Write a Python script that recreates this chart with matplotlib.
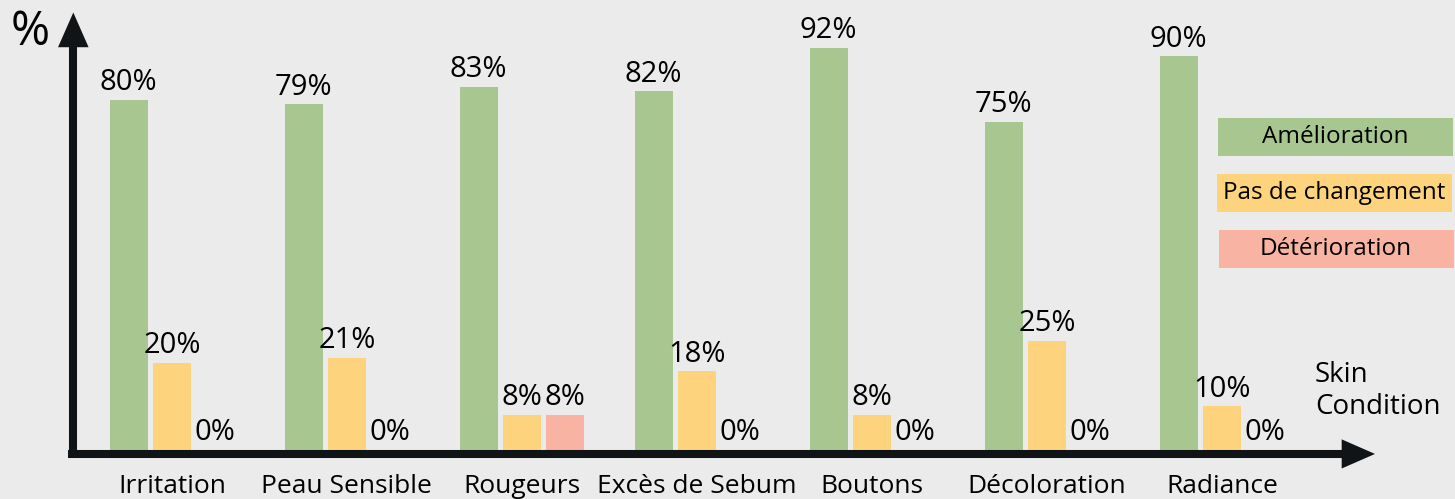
import matplotlib.pyplot as plt
from matplotlib.patches import Rectangle

plt.rcParams['font.family'] = ['Open Sans', 'DejaVu Sans']

# data
conditions = ['Irritation', 'Peau Sensible', 'Rougeurs', 'Excès de Sebum',
              'Boutons', 'Décoloration', 'Radiance']
amelioration = [80, 79, 83, 82, 92, 75, 90]
pas_de_changement = [20, 21, 8, 18, 8, 25, 10]
deterioration = [0, 0, 8, 0, 0, 0, 0]
series_names = ['Amélioration', 'Pas de changement', 'Détérioration']

bg = '#ebebeb'
green = '#a8c690'
yellow = '#fdd47d'
red = '#f8b3a3'
ink = '#111417'

W, H = 1455, 499
fig = plt.figure(figsize=(W / 100, H / 100), dpi=100, facecolor=bg)

# axes placed in pixels: left 72, right 1375, top 12.5, baseline 450
ax = fig.add_axes([72 / W, 49 / H, 1303 / W, 437.5 / H])
ax.set_facecolor(bg)
ax.set_xlim(-0.571, 6.875)
ax.set_ylim(0, 100)
for s in ax.spines.values():
    s.set_visible(False)
ax.set_yticks([])

x = list(range(len(conditions)))
w = 0.217
off = 0.247
series = [(amelioration, green, -off), (pas_de_changement, yellow, 0),
          (deterioration, red, off)]
for vals, col, dx in series:
    xs = [i + dx for i in x]
    ax.bar(xs, vals, width=w, color=col, zorder=2)
    for xi, v in zip(xs, vals):
        ax.annotate(f'{v}%', xy=(xi, v), xytext=(0, 7), textcoords='offset points',
                    ha='center', va='baseline', fontsize=21, color='black')

ax.set_xticks(x)
ax.set_xticklabels(conditions, fontsize=19)
ax.tick_params(axis='x', length=0, pad=17)

# axis arrows
lw = 5.8
ax.plot([0.001, 0.001], [-0.018, 0.93], transform=ax.transAxes, color=ink,
        lw=lw, solid_capstyle='butt', clip_on=False, zorder=3)
ax.plot([-0.003, 0.978], [-0.009, -0.009], transform=ax.transAxes, color=ink,
        lw=lw, solid_capstyle='butt', clip_on=False, zorder=3)
ax.annotate('', xy=(0.001, 1.0), xytext=(0.001, 0.9), xycoords='axes fraction',
            arrowprops=dict(arrowstyle='-|>,head_length=25,head_width=11',
                            mutation_scale=1, color=ink, lw=0,
                            shrinkA=0, shrinkB=0), zorder=4)
ax.annotate('', xy=(1.0, -0.009), xytext=(0.95, -0.009), xycoords='axes fraction',
            arrowprops=dict(arrowstyle='-|>,head_length=24,head_width=10.5',
                            mutation_scale=1, color=ink, lw=0,
                            shrinkA=0, shrinkB=0), zorder=4)

fig.text(30 / W, 1 - 32 / H, '%', fontsize=34, ha='center', va='center')
fig.text(1315 / W, 1 - 391 / H, 'Skin\nCondition', fontsize=20, ha='left',
         va='center', linespacing=1.2)

# legend boxes
boxes = [(1218, 118, green), (1217, 174, yellow), (1219, 230, red)]
for (bx, by, col), name in zip(boxes, series_names):
    fig.add_artist(Rectangle((bx / W, 1 - (by + 38) / H), 235 / W, 38 / H,
                             transform=fig.transFigure, color=col, lw=0))
    fig.text((bx + 117) / W, 1 - (by + 19) / H, name, fontsize=17.5,
             ha='center', va='center')

plt.savefig('out.png', dpi=100, facecolor=bg)
